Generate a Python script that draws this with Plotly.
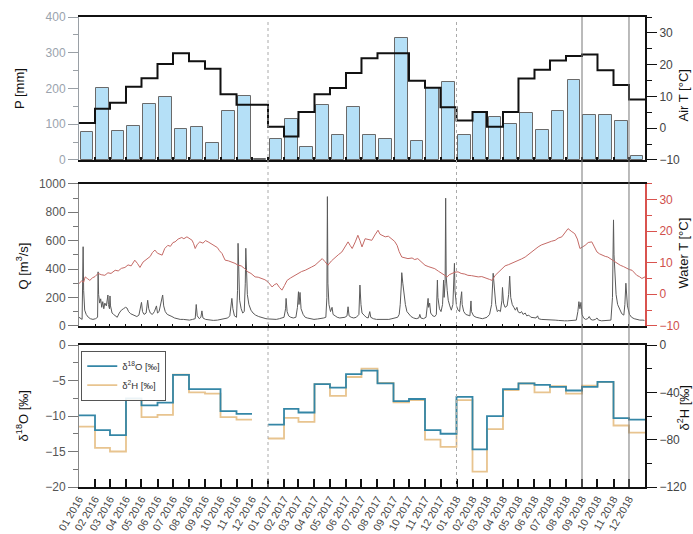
import pandas as pd
import plotly.graph_objects as go

# ---------------- data ----------------
MONTHS = pd.date_range("2016-01-01", periods=36, freq="MS")
END = pd.Timestamp("2019-01-01")
TICK_LABELS = [d.strftime("%m %Y") for d in MONTHS]

PRECIP = [78, 201, 81, 94, 156, 175, 87, 93, 48, 136, 178, 2,
          59, 115, 36, 154, 71, 148, 71, 59, 342, 52, 200, 217,
          71, 132, 120, 101, 130, 83, 137, 223, 125, 125, 108, 12]

AIR_T = [1.6, 6.1, 8.0, 13.0, 15.7, 20.2, 23.6, 21.1, 18.7, 10.7, 7.4, 7.4,
         0.4, -2.6, 5.1, 10.7, 12.6, 17.4, 22.0, 23.6, 23.6, 14.9, 12.7, 6.6,
         2.4, 5.1, 0.4, 5.1, 15.6, 18.4, 21.3, 22.7, 23.2, 18.2, 13.6, 9.0]

D18O = [-9.9, -12.0, -12.7, -7.5, -8.5, -8.1, -4.2, -6.2, -6.2, -9.3, -9.7, None,
        -11.2, -9.0, -9.5, -5.5, -6.0, -4.1, -3.6, -5.4, -7.9, -7.6, -12.0, -12.5,
        -7.3, -14.7, -10.0, -6.2, -5.4, -5.6, -5.9, -6.4, -5.9, -5.2, -10.3, -10.5]

D2H = [-69, -87, -90, -46, -61, -59, -25, -40, -41, -61, -63, None,
       -79, -61.5, -65, -33, -43, -27, -20, -32, -48.5, -46.6, -80, -86,
       -46.6, -107, -71, -38, -32.5, -40, -34.7, -41, -34.4, -31.3, -68, -74]

# discharge, days since 2016-01-01
Q_DAY = [0, 3, 6, 8, 9, 11, 14, 18, 22, 27, 32, 36, 37, 38, 40, 42, 44, 46, 48, 50, 53, 56, 57, 59, 60, 61, 64,
         67, 70, 74, 78, 82, 86, 90, 93, 96, 100, 104, 108, 112, 116, 119, 121, 123, 126, 130, 133, 135, 138,
         142, 146, 150, 152, 155, 158, 161, 162, 164, 167, 171, 175, 180, 185, 190, 196, 202, 208, 214, 220,
         225, 227, 229, 233, 236, 238, 240, 245, 252, 260, 268, 275, 282, 288, 292, 295, 296, 298, 301, 305,
         307, 308, 309, 311, 314, 317, 320, 322, 323, 324, 326, 329, 333, 337, 342, 348, 355, 362, 368, 375,
         382, 388, 393, 397, 400, 401, 403, 406, 410, 415, 420, 423, 425, 426, 428, 430, 434, 438, 442, 448,
         455, 462, 468, 474, 478, 480, 481, 482, 484, 487, 490, 492, 496, 500, 505, 510, 515, 519, 521, 523,
         527, 532, 537, 542, 544, 546, 548, 552, 556, 560, 563, 565, 570, 576, 582, 588, 594, 600, 606, 612,
         617, 620, 622, 624, 625, 627, 629, 632, 635, 639, 643, 648, 653, 658, 660, 662, 667, 672, 675, 676,
         677, 679, 681, 685, 689, 692, 694, 695, 698, 701, 704, 706, 707, 709, 710, 711, 713, 715, 718, 721,
         724, 726, 727, 728, 731, 734, 737, 739, 741, 742, 745, 749, 753, 757, 759, 760, 764, 769, 775, 781,
         786, 790, 795, 799, 802, 804, 807, 810, 813, 816, 819, 820, 822, 825, 829, 832, 834, 836, 839, 842,
         845, 848, 850, 854, 857, 860, 864, 867, 871, 875, 880, 885, 888, 890, 895, 900, 905, 910, 916, 922,
         928, 934, 940, 946, 952, 958, 963, 966, 968, 970, 972, 974, 977, 981, 985, 988, 991, 995, 1000, 1003,
         1006, 1012, 1018, 1024, 1030, 1033, 1034, 1035, 1036, 1038, 1040, 1043, 1047, 1051, 1055, 1057, 1059,
         1060, 1062, 1066, 1070, 1075, 1080, 1086, 1092, 1095]
Q_VAL = [60, 50, 45, 557, 250, 110, 80, 60, 50, 45, 50, 60, 380, 220, 160, 190, 130, 170, 120, 160, 140, 217, 150, 120, 210, 140, 90,
         80, 70, 60, 90, 110, 120, 130, 125, 100, 85, 80, 70, 65, 75, 130, 165, 100, 80, 90, 180, 120, 90,
         80, 100, 140, 90, 100, 150, 190, 217, 140, 100, 80, 75, 65, 55, 50, 45, 45, 40, 40, 45,
         50, 150, 70, 50, 60, 105, 55, 45, 40, 38, 40, 45, 50, 55, 70, 150, 193, 120, 70, 60,
         250, 581, 350, 180, 120, 90, 100, 300, 546, 380, 220, 150, 110, 90, 75, 65, 55, 50, 48, 45,
         45, 50, 55, 60, 120, 193, 100, 70, 60, 55, 60, 130, 240, 150, 235, 120, 80, 60, 55, 50,
         45, 48, 50, 55, 60, 200, 910, 300, 150, 100, 130, 80, 70, 60, 55, 55, 60, 70, 134, 70,
         60, 55, 60, 80, 287, 150, 90, 75, 60, 55, 100, 60, 50, 45, 45, 40, 42, 45, 50, 55,
         60, 80, 150, 280, 374, 300, 220, 150, 100, 80, 65, 55, 50, 55, 80, 55, 50, 60, 150, 193,
         130, 160, 90, 70, 65, 80, 322, 200, 120, 100, 150, 322, 200, 300, 899, 350, 250, 180, 140, 110,
         150, 300, 440, 250, 140, 110, 100, 180, 240, 150, 100, 80, 75, 70, 175, 100, 70, 60, 55, 50,
         55, 60, 80, 150, 370, 250, 150, 100, 110, 100, 180, 270, 160, 130, 140, 220, 350, 200, 150, 130,
         110, 130, 100, 90, 100, 80, 90, 70, 75, 60, 55, 55, 70, 50, 45, 45, 40, 40, 40, 40,
         38, 35, 35, 35, 35, 35, 40, 100, 170, 120, 165, 80, 55, 45, 50, 65, 45, 40, 45, 55,
         40, 35, 35, 35, 40, 200, 550, 746, 500, 300, 220, 150, 110, 85, 75, 150, 300,
         250, 140, 80, 60, 50, 45, 40, 40, 38]

# water temperature, days since 2016-01-01
WT_DAY = [0, 5, 9, 12, 16, 21, 26, 31, 37, 43, 50, 56, 62, 70, 76, 82, 89, 95, 101, 108, 113, 118, 124, 132, 138,
          142, 147, 152, 157, 161, 166, 172, 177, 182, 186, 192, 199, 203, 209, 214, 219, 222, 225, 229, 234,
          240, 245, 250, 256, 263, 268, 272, 277, 280, 283, 289, 296, 302, 308, 314, 321, 327, 333, 341, 347,
          354, 360, 366, 370, 374, 378, 383, 388, 393, 398, 403, 410, 418, 424, 431, 438, 444, 450, 457, 464,
          471, 476, 482, 489, 496, 502, 509, 515, 521, 525, 529, 535, 540, 544, 548, 554, 560, 567, 573, 579,
          583, 588, 593, 599, 606, 611, 616, 620, 625, 631, 637, 645, 650, 656, 663, 670, 676, 683, 689, 696,
          703, 708, 713, 717, 722, 728, 734, 740, 747, 753, 760, 767, 773, 780, 785, 790, 795, 800, 806, 812,
          819, 825, 832, 838, 844, 851, 857, 864, 870, 876, 883, 889, 895, 902, 908, 915, 922, 928, 935, 941,
          947, 953, 960, 965, 970, 975, 980, 986, 993, 998, 1003, 1008, 1013, 1019, 1024, 1029, 1034, 1041,
          1048, 1054, 1061, 1066, 1071, 1076, 1080, 1085, 1090, 1096]
WT_VAL = [3.4, 4.2, 3.8, 5.5, 5.0, 4.4, 5.2, 5.6, 6.6, 6.2, 6.0, 6.8, 6.6, 7.6, 7.4, 8.2, 8.5, 9.3, 9.0, 10.8, 9.8, 8.5, 10.2, 11.3, 12.0,
          13.2, 14.0, 13.0, 12.8, 12.4, 14.5, 15.5, 15.2, 16.4, 16.6, 17.5, 18.0, 17.6, 18.2, 17.6, 17.1, 16.0, 14.5, 15.8, 16.6,
          16.2, 17.0, 16.6, 16.0, 15.5, 14.8, 13.8, 12.9, 11.8, 10.8, 10.6, 10.2, 9.8, 9.2, 9.0, 8.1, 7.1, 6.6, 5.5, 5.4,
          5.0, 4.6, 3.9, 3.2, 2.3, 3.0, 3.4, 2.2, 1.3, 2.8, 4.4, 5.2, 6.0, 6.4, 7.2, 7.6, 8.0, 8.6, 9.2, 10.2,
          11.3, 10.4, 9.2, 10.6, 11.8, 12.5, 13.4, 14.8, 16.6, 15.5, 14.5, 16.6, 18.7, 17.0, 15.0, 17.6, 17.4, 17.1, 18.8, 20.3,
          19.0, 18.7, 18.2, 18.4, 17.6, 16.8, 15.5, 13.5, 11.8, 11.6, 11.3, 11.5, 11.0, 11.3, 10.2, 9.2, 8.8, 8.4, 8.1, 7.3,
          6.6, 6.0, 5.5, 6.2, 6.6, 7.0, 7.1, 6.6, 6.4, 6.0, 5.9, 5.6, 5.5, 5.6, 5.2, 5.0, 4.7, 4.4, 6.0, 7.0,
          8.1, 9.0, 9.4, 9.8, 10.2, 10.9, 11.2, 11.8, 12.6, 13.5, 14.5, 15.0, 15.6, 16.1, 16.4, 16.8, 17.1, 17.8, 18.2, 19.4,
          20.8, 20.0, 19.2, 17.5, 14.5, 15.0, 15.5, 16.4, 16.6, 15.0, 13.4, 12.8, 12.4, 12.0, 11.8, 11.2, 10.8, 10.0,
          9.2, 8.8, 8.1, 7.8, 7.6, 6.8, 6.0, 5.6, 5.0, 5.5]

# ---------------- helpers ----------------
START = MONTHS[0]
EDGES = list(MONTHS) + [END]


def step(vals):
    xs, ys = [], []
    for i, v in enumerate(vals):
        if v is None:
            xs.append(EDGES[i])
            ys.append(None)
        else:
            xs += [EDGES[i], EDGES[i + 1]]
            ys += [v, v]
    return xs, ys


def days_to_dates(days):
    return [START + pd.Timedelta(days=d) for d in days]


FONT = "Liberation Sans, Arial, sans-serif"
fig = go.Figure()

# top panel
fig.add_trace(go.Bar(x=MONTHS, y=PRECIP, xperiod="M1", xperiodalignment="middle",
                     width=24.5 * 86400000, marker=dict(color="#b5e0f7", line=dict(color="#6a6a6a", width=1)),
                     xaxis="x", yaxis="y", showlegend=False))
ax, ay = step(AIR_T)
fig.add_trace(go.Scatter(x=ax, y=ay, mode="lines", line=dict(color="#111", width=2),
                         xaxis="x", yaxis="y2", showlegend=False))

# middle panel
fig.add_trace(go.Scatter(x=days_to_dates(Q_DAY), y=Q_VAL, mode="lines", line=dict(color="#5a5a5a", width=1),
                         xaxis="x2", yaxis="y3", showlegend=False))
fig.add_trace(go.Scatter(x=days_to_dates(WT_DAY), y=WT_VAL, mode="lines", line=dict(color="#c46a66", width=1),
                         xaxis="x2", yaxis="y4", showlegend=False))

# bottom panel
hx, hy = step(D2H)
fig.add_trace(go.Scatter(x=hx, y=hy, mode="lines", line=dict(color="#e8c48f", width=1.8),
                         xaxis="x3", yaxis="y5", name="δ<sup>2</sup>H [‰]", legendrank=2))
ox, oy = step(D18O)
fig.add_trace(go.Scatter(x=ox, y=oy, mode="lines", line=dict(color="#3486a6", width=1.8),
                         xaxis="x3", yaxis="y6", name="δ<sup>18</sup>O [‰]", legendrank=1))

XR = [START, END]
base_x = dict(type="date", range=XR, showline=True, linecolor="#111", linewidth=2, mirror=True,
              showgrid=False, zeroline=False, tickvals=list(MONTHS), tickcolor="#111", automargin=False)


def yax(**kw):
    d = dict(showgrid=False, zeroline=False, showline=True, ticks="outside", ticklen=10, tickwidth=1,
             automargin=False, tickfont=dict(size=12, color="#555", family=FONT))
    d.update(kw)
    return d


D_TOP = [0.696, 1.0]
D_MID = [0.343, 0.645]
D_BOT = [0.0, 0.302]

fig.update_layout(
    width=693, height=534,
    margin=dict(l=79, r=48, t=17, b=47, autoexpand=False),
    paper_bgcolor="white", plot_bgcolor="white",
    font=dict(family=FONT, color="#222"),
    bargap=0,
    xaxis=dict(base_x, anchor="y", ticks="inside", ticklen=3, tickwidth=2, showticklabels=False),
    xaxis2=dict(base_x, anchor="y3", ticks="inside", ticklen=2, tickwidth=1, showticklabels=False),
    xaxis3=dict(base_x, anchor="y5", ticks="inside", ticklen=8, tickwidth=2, ticktext=TICK_LABELS,
                tickangle=-60, tickfont=dict(size=10.5, color="#444", family=FONT)),
    yaxis=yax(domain=D_TOP, anchor="x", range=[0, 400], dtick=100, linecolor="#9aa0a6", tickcolor="#9aa0a6",
              tickfont=dict(size=12, color="#9aa3ad", family=FONT),
              minor=dict(ticks="outside", ticklen=5, dtick=50, tickcolor="#9aa0a6")),
    yaxis2=yax(domain=D_TOP, anchor="x", overlaying="y", side="right", range=[-10, 35], dtick=10,
               linecolor="#111", linewidth=2, tickcolor="#111",
               tickfont=dict(size=12, color="#444", family=FONT),
               minor=dict(ticks="outside", ticklen=5, dtick=5, tickcolor="#111")),
    yaxis3=yax(domain=D_MID, anchor="x2", range=[0, 1000], dtick=200, linecolor="#888", tickcolor="#777",
               minor=dict(ticks="outside", ticklen=5, dtick=100, tickcolor="#777")),
    yaxis4=yax(domain=D_MID, anchor="x2", overlaying="y3", side="right", range=[-10, 35], dtick=10,
               linecolor="#d9534f", linewidth=2, tickcolor="#d9534f",
               tickfont=dict(size=12, color="#d0504c", family=FONT),
               minor=dict(ticks="outside", ticklen=5, dtick=5, tickcolor="#d9534f")),
    yaxis5=yax(domain=D_BOT, anchor="x3", side="right", range=[-120, 0], dtick=40,
               linecolor="#111", linewidth=2, tickcolor="#111",
               tickfont=dict(size=12, color="#444", family=FONT),
               minor=dict(ticks="outside", ticklen=5, dtick=20, tickcolor="#111")),
    yaxis6=yax(domain=D_BOT, anchor="x3", overlaying="y5", side="left", range=[-20, 0], dtick=5,
               linecolor="#888", tickcolor="#777",
               minor=dict(ticks="outside", ticklen=5, dtick=2.5, tickcolor="#777")),
    legend=dict(x=0.004, y=0.29, xanchor="left", yanchor="top", bordercolor="#555", borderwidth=1,
                bgcolor="rgba(255,255,255,0.9)", font=dict(size=9.5, family=FONT, color="#333"),
                itemwidth=30, tracegroupgap=0),
)

# vertical reference lines
for d in ["2017-01-01", "2018-01-01"]:
    fig.add_shape(type="line", xref="x", yref="paper", x0=d, x1=d, y0=0, y1=0.995,
                  line=dict(color="#aaa", width=1, dash="dot"))
for d in ["2018-09-01", "2018-12-01"]:
    fig.add_shape(type="line", xref="x", yref="paper", x0=d, x1=d, y0=0, y1=1,
                  line=dict(color="#777", width=1))

# axis titles
TITLES = [
    ("P [mm]", -0.104, 0.847),
    ("Q [m<sup>3</sup>/s]", -0.100, 0.47),
    ("δ<sup>18</sup>O [‰]", -0.100, 0.151),
    ("Air T [°C]", 1.068, 0.834),
    ("Water T [°C]", 1.068, 0.498),
    ("δ<sup>2</sup>H [‰]", 1.068, 0.170),
]
for txt, x, y in TITLES:
    fig.add_annotation(text=txt, x=x, y=y, xref="paper", yref="paper", showarrow=False, textangle=-90,
                       xanchor="center", yanchor="middle", font=dict(size=13, color="#111", family=FONT))

fig.write_html("out.html")
